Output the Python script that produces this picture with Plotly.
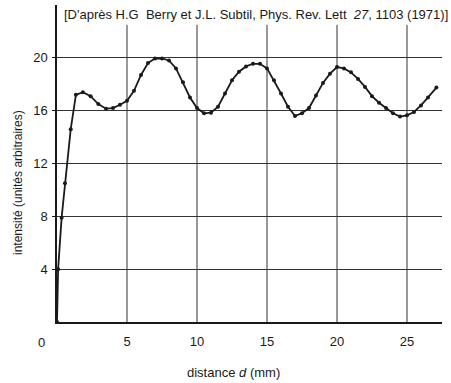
import plotly.graph_objects as go

# Data
distance_mm = [0, 0.08, 0.33, 0.57, 0.98, 1.35, 1.85, 2.4, 2.95, 3.5, 4.0, 4.5, 5.0, 5.5,
               6.0, 6.5, 7.0, 7.5, 8.0, 8.5, 9.0, 9.5, 10.0, 10.5, 11.0, 11.5, 12.0, 12.5,
               13.0, 13.5, 14.0, 14.5, 15.0, 15.5, 16.0, 16.5, 17.0, 17.5, 18.0, 18.5,
               19.0, 19.5, 20.0, 20.5, 21.0, 21.5, 22.0, 22.5, 23.0, 23.5, 24.0, 24.5,
               25.0, 25.5, 26.0, 26.5, 27.1]
intensity = [0, 4.0, 7.9, 10.5, 14.6, 17.2, 17.4, 17.1, 16.5, 16.15, 16.2, 16.45, 16.75, 17.5,
             18.7, 19.6, 19.95, 19.95, 19.8, 19.2, 18.15, 17.0, 16.2, 15.8, 15.85, 16.3, 17.3, 18.3,
             18.95, 19.35, 19.55, 19.55, 19.2, 18.3, 17.3, 16.3, 15.6, 15.8, 16.2, 17.15,
             18.1, 18.8, 19.3, 19.2, 18.9, 18.4, 17.8, 17.1, 16.6, 16.2, 15.8, 15.55,
             15.65, 15.9, 16.4, 17.0, 17.75]

x_ticks = [5, 10, 15, 20, 25]
y_ticks = [4, 8, 12, 16, 20]
x_range = [0, 27.5]
y_range = [0, 24]
vgrid_top = 22.5

FONT = "Liberation Sans"
INK = "#1a1a1a"

L, R, T, B = 57, 9, 5, 61
W, H = 451, 383
PW, PH = W - L - R, H - T - B


def px(xp):
    return (xp - L) / PW


def py(yp):
    return (H - B - yp) / PH


fig = go.Figure()
fig.add_trace(go.Scatter(
    x=distance_mm, y=intensity, mode="lines+markers",
    line=dict(color=INK, width=1.8),
    marker=dict(color=INK, size=4),
    showlegend=False, hoverinfo="skip"))

for xv in x_ticks:
    fig.add_shape(type="line", xref="x", yref="y", x0=xv, x1=xv, y0=0, y1=vgrid_top,
                  line=dict(color="#333333", width=1), layer="below")

fig.update_layout(
    width=W, height=H,
    margin=dict(l=L, r=R, t=T, b=B),
    paper_bgcolor="white", plot_bgcolor="white",
    font=dict(family=FONT, size=13, color=INK),
    xaxis=dict(range=x_range, tickvals=x_ticks, ticktext=[str(v) for v in x_ticks],
               showgrid=False, zeroline=False, showline=True, linecolor=INK, linewidth=1.5,
               ticks="", ticklabelstandoff=7, tickfont=dict(size=13)),
    yaxis=dict(range=y_range, tickvals=y_ticks, ticktext=[str(v) for v in y_ticks],
               showgrid=True, gridcolor="#333333", gridwidth=1, zeroline=False,
               showline=True, linecolor=INK, linewidth=1.5,
               ticks="outside", ticklen=3, tickcolor=INK,
               ticklabelstandoff=2, tickfont=dict(size=13)),
    annotations=[
        dict(text="0", xref="paper", yref="paper", x=px(41), y=py(342),
             xanchor="center", yanchor="middle", showarrow=False, font=dict(size=13)),
        dict(text="distance <i>d</i> (mm)", xref="paper", yref="paper",
             x=px(233), y=py(373), xanchor="center", yanchor="middle",
             showarrow=False, font=dict(size=13)),
        dict(text="intensité (unités arbitraires)", xref="paper", yref="paper",
             x=px(18), y=py(183), xanchor="center", yanchor="middle",
             showarrow=False, textangle=-90, font=dict(size=12)),
        dict(text="[D'après H.G  Berry et J.L. Subtil, Phys. Rev. Lett  <i>27</i>, 1103 (1971)]",
             xref="paper", yref="paper", x=px(450), y=py(14),
             xanchor="right", yanchor="middle", showarrow=False, font=dict(size=13)),
    ],
)

fig.write_html("out.html")
